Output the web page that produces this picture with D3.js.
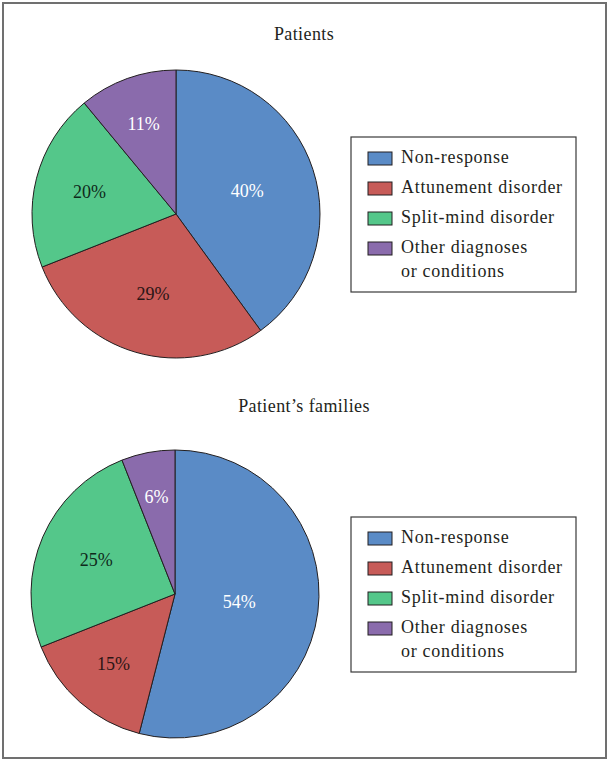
<!DOCTYPE html>
<html>
<head>
<meta charset="utf-8">
<script src="https://cdn.jsdelivr.net/npm/d3@7/dist/d3.min.js"></script>
<style>
html,body{margin:0;padding:0;background:#fff;}
svg{display:block;}
text{font-family:"Liberation Serif","Times New Roman",serif;}
</style>
</head>
<body>
<svg id="chart" width="609" height="761"></svg>
<script>
const categories = ["Non-response", "Attunement disorder", "Split-mind disorder", "Other diagnoses\nor conditions"];
const colors = ["#5A8BC6", "#C75B58", "#54C78A", "#8A6BAC"];
const labelColors = ["#ffffff", "#2b1515", "#0f2a1b", "#ffffff"];
const chartTitles = ["Patients", "Patient\u2019s families"];
const patientsValues = [40, 29, 20, 11];
const familiesValues = [54, 15, 25, 6];

const svg = d3.select("#chart");
svg.append("rect").attr("x", 3).attr("y", 3).attr("width", 603).attr("height", 755)
  .attr("fill", "#fff").attr("stroke", "#707070").attr("stroke-width", 2);

const R = 144;
const pie = d3.pie().sort(null).value(d => d);
const arc = d3.arc().innerRadius(0).outerRadius(R);

function drawPanel(values, title, cx, cy, titleY, legendY) {
  svg.append("text").attr("x", 304).attr("y", titleY).attr("text-anchor", "middle")
    .attr("font-size", 18).attr("letter-spacing", "0.4px").attr("fill", "#231f20").text(title);
  const g = svg.append("g").attr("transform", `translate(${cx},${cy})`);
  const total = d3.sum(values);
  const arcs = pie(values);
  g.selectAll("path").data(arcs).join("path")
    .attr("d", arc)
    .attr("fill", (d, i) => colors[i])
    .attr("stroke", "#231f20").attr("stroke-width", 1);
  g.selectAll("text.lbl").data(arcs).join("text").attr("class", "lbl")
    .attr("transform", d => {
      const f = d.value / total;
      const r = R * (0.72 - 0.5 * f);
      const a = (d.startAngle + d.endAngle) / 2;
      return `translate(${r * Math.sin(a)},${-r * Math.cos(a)})`;
    })
    .attr("text-anchor", "middle").attr("dy", "0.35em")
    .attr("font-size", 18)
    .attr("fill", (d, i) => labelColors[i])
    .text(d => d.value + "%");

  // legend
  const lx = 351, lw = 225, lh = 155;
  const lg = svg.append("g").attr("transform", `translate(${lx},${legendY})`);
  lg.append("rect").attr("x", 0).attr("y", 0).attr("width", lw).attr("height", lh)
    .attr("fill", "#fff").attr("stroke", "#3a3a3a").attr("stroke-width", 1.2);
  categories.forEach((c, i) => {
    const rowY = 25 + i * 30;
    lg.append("rect").attr("x", 17).attr("y", rowY - 10).attr("width", 24).attr("height", 13)
      .attr("fill", colors[i]).attr("stroke", "#231f20").attr("stroke-width", 1);
    const lines = c.split("\n");
    lines.forEach((ln, j) => {
      lg.append("text").attr("x", 50).attr("y", rowY + j * 24 + 1)
        .attr("font-size", 18).attr("letter-spacing", "0.7px").attr("fill", "#231f20").text(ln);
    });
  });
}

drawPanel(patientsValues, chartTitles[0], 176, 214, 40, 137);
drawPanel(familiesValues, chartTitles[1], 175, 594, 412, 517);
</script>
</body>
</html>
